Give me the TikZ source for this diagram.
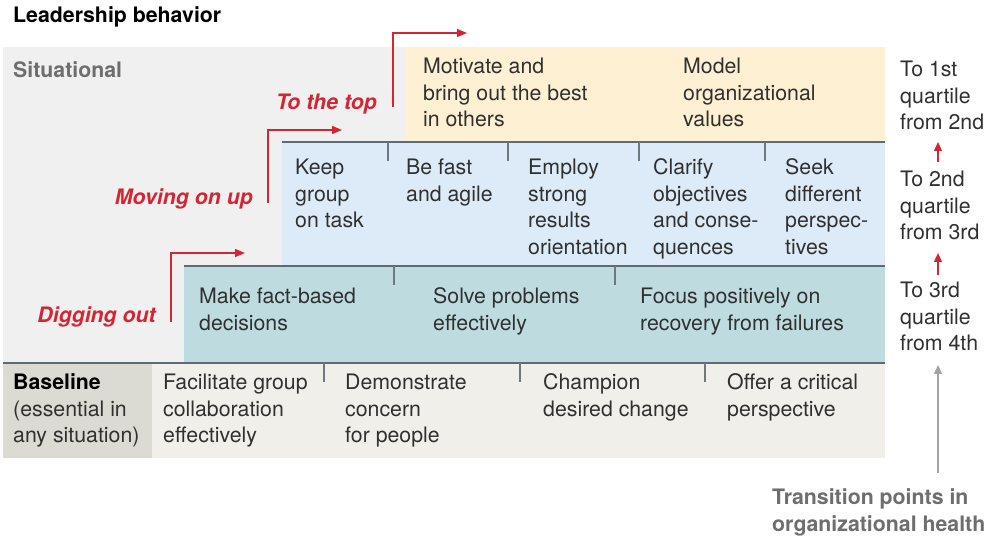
\documentclass[tikz,border=0pt]{standalone}
\usepackage{fontspec}
\setmainfont{TeX Gyre Heros}
\usetikzlibrary{arrows.meta}
\definecolor{ink}{HTML}{303030}
\definecolor{accent}{HTML}{D42533}
\definecolor{sitbg}{HTML}{F0F0F0}
\definecolor{topbg}{HTML}{FDF0D3}
\definecolor{midbg}{HTML}{DCEBF7}
\definecolor{lowbg}{HTML}{BEDCDF}
\definecolor{basebg}{HTML}{F0EFE9}
\definecolor{baselbl}{HTML}{DBDBD3}
\definecolor{slate}{HTML}{5C6B77}
\definecolor{tickgray}{HTML}{6E7880}
\definecolor{mutedtxt}{HTML}{6E6E6E}
\definecolor{arrowgray}{HTML}{A3A3A3}
\newcommand\bodyfont{\fontsize{21.3}{26.7}\selectfont}
\tikzset{
  txt/.style={anchor=north west, inner sep=0pt, align=left, font=\bodyfont, text=ink},
  redlbl/.style={anchor=base east, inner sep=0pt, font=\bodyfont\bfseries\itshape, text=accent},
  bandrule/.style={draw=slate, line width=1.4pt},
  tickline/.style={draw=tickgray, line width=1.2pt},
  redarrow/.style={draw=accent, line width=1.4pt, -{Triangle[length=10pt,width=8pt]}},
  smallred/.style={draw=accent, line width=1.3pt, -{Triangle[length=9pt,width=8pt]}},
  grayarrow/.style={draw=arrowgray, line width=1.3pt, -{Triangle[length=9pt,width=8pt]}}
}
\begin{document}
\begin{tikzpicture}[x=1pt,y=-1pt]
\fill[white] (0,0) rectangle (991,537);
\useasboundingbox (0,0) rectangle (991,537);
% backgrounds
\fill[sitbg] (3,47) rectangle (885,363);
\fill[topbg] (406,47) rectangle (885,142);
\fill[midbg] (282,142) rectangle (885,266);
\fill[lowbg] (184,266) rectangle (885,363);
\fill[basebg] (3,363) rectangle (885,458);
\fill[baselbl] (3,363) rectangle (152,458);
% rules
\draw[bandrule] (282,142) -- (885,142);
\draw[bandrule] (184,266) -- (885,266);
\draw[bandrule] (3,363) -- (885,363);
% ticks
\foreach \xx in {388,508,639,765} \draw[tickline] (\xx,142) -- (\xx,161);
\foreach \xx in {394,615} \draw[tickline] (\xx,266) -- (\xx,285);
\foreach \xx in {324,520,705} \draw[tickline] (\xx,363) -- (\xx,382);
% headings
\node[txt, font=\bodyfont\bfseries, text=black] (title) at (13,3.5) {\strut Leadership behavior};
\node[txt, font=\bodyfont\bfseries, text=mutedtxt] (situational) at (13,58.5) {\strut Situational};
% top row
\node[txt] (motivate) at (423,54.5) {\strut Motivate and\\bring out the best\\in others};
\node[txt] (model) at (683,54.5) {\strut Model\\organizational\\values};
% middle row
\node[txt] (keep) at (295,155.5) {\strut Keep\\group\\on task};
\node[txt] (fast) at (406,155.5) {\strut Be fast\\and agile};
\node[txt] (employ) at (528,155.5) {\strut Employ\\strong\\results\\orientation};
\node[txt] (clarify) at (653,155.5) {\strut Clarify\\objectives\\and conse-\\quences};
\node[txt] (seek) at (785,155.5) {\strut Seek\\different\\perspec-\\tives};
% lower row
\node[txt] (make) at (199,285) {\strut Make fact-based\\decisions};
\node[txt] (solve) at (433,285) {\strut Solve problems\\effectively};
\node[txt] (focus) at (640,285) {\strut Focus positively on\\recovery from failures};
% baseline row
\node[txt] (baseline) at (13,370.5) {\strut\textcolor{black}{\textbf{Baseline}}\\(essential in\\any situation)};
\node[txt] (facilitate) at (163,370.5) {\strut Facilitate group\\collaboration\\effectively};
\node[txt] (concern) at (345,370.5) {\strut Demonstrate\\concern\\for people};
\node[txt] (champion) at (543,370.5) {\strut Champion\\desired change};
\node[txt] (offer) at (727,370.5) {\strut Offer a critical\\perspective};
% right column
\node[txt] (q1) at (900,57.5) {\strut To 1st\\quartile\\from 2nd};
\node[txt] (q2) at (900,167.5) {\strut To 2nd\\quartile\\from 3rd};
\node[txt] (q3) at (900,278.5) {\strut To 3rd\\quartile\\from 4th};
\node[txt, font=\bodyfont\bfseries, text=mutedtxt] (transition) at (772,486) {\strut Transition points in\\organizational health};
% red labels
\node[redlbl] (totop) at (377,109.5) {To the top};
\node[redlbl] (movingup) at (253,205) {Moving on up};
\node[redlbl] (digging) at (156,323) {Digging out};
% red elbow arrows
\coordinate (tt0) at (393,107);
\coordinate (tt1) at (467,33);
\coordinate (mu0) at (268,203);
\coordinate (mu1) at (342,130);
\coordinate (dg0) at (171,322);
\coordinate (dg1) at (245,253);
\draw[redarrow] (tt0) |- (tt1);
\draw[redarrow] (mu0) |- (mu1);
\draw[redarrow] (dg0) |- (dg1);
% right arrows
\coordinate (r1a) at (938,162);
\coordinate (r1b) at (938,142);
\coordinate (r2a) at (938,275);
\coordinate (r2b) at (938,253);
\coordinate (g0) at (938,473);
\coordinate (g1) at (938,365);
\draw[smallred] (r1a) -- (r1b);
\draw[smallred] (r2a) -- (r2b);
\draw[grayarrow] (g0) -- (g1);
\end{tikzpicture}
\end{document}
